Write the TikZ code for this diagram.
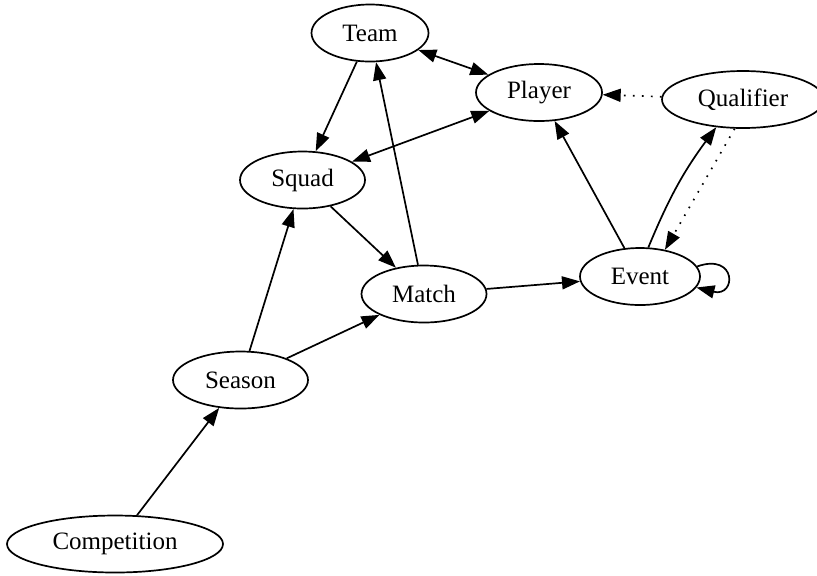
\documentclass[tikz,border=0pt]{standalone}
\usepackage{fontspec}
\setmainfont{Liberation Serif}
\usetikzlibrary{shapes.geometric,arrows.meta}

\tikzset{
  ent/.style={draw, ellipse, inner sep=0pt, minimum height=28.5pt, line width=0.85pt,
    font=\fontsize{12.5}{15}\selectfont},
  rel/.style={-{Triangle[length=9pt,width=6.5pt]}, line width=0.85pt},
  birel/.style={{Triangle[length=9pt,width=6.5pt]}-{Triangle[length=9pt,width=6.5pt]}, line width=0.85pt},
  dotrel/.style={rel, dash pattern=on 0.8pt off 3.7pt}
}

\begin{document}
\begin{tikzpicture}[x=0.5pt,y=-0.5pt]
\useasboundingbox (0,0) rectangle (817,575);

\node[ent, minimum width=58.5pt] (team) at (370,33) {Team};
\node[ent, minimum width=63pt] (player) at (539,92.5) {Player};
\node[ent, minimum width=81pt] (qual) at (743,99.5) {Qualifier};
\node[ent, minimum width=62.5pt] (squad) at (302.5,180) {Squad};
\node[ent, minimum width=62.5pt] (match) at (424,294) {Match};
\node[ent, minimum width=60pt] (event) at (640,276.5) {Event};
\node[ent, minimum width=67.5pt] (season) at (240.5,380) {Season};
\node[ent, minimum width=108pt] (comp) at (115,544) {Competition};

\draw[rel] (comp) -- (season);
\draw[rel] (season) -- (squad);
\draw[rel] (season) -- (match);
\draw[rel] (squad) -- (match);
\draw[rel] (match) -- (team);
\draw[rel] (team) -- (squad);
\draw[birel] (team) -- (player);
\draw[birel] (squad) -- (player);
\draw[rel] (match) -- (event);
\draw[rel] (event) -- (player);
\draw[rel] (event.74) to[bend left=7] (qual.226);
\draw[dotrel] (qual.254) -- (event.47);
\draw[dotrel] (qual) -- (player);
\draw[rel] (event.10) .. controls +(40,-14) and +(40,10) .. (event.-11);
\end{tikzpicture}
\end{document}
